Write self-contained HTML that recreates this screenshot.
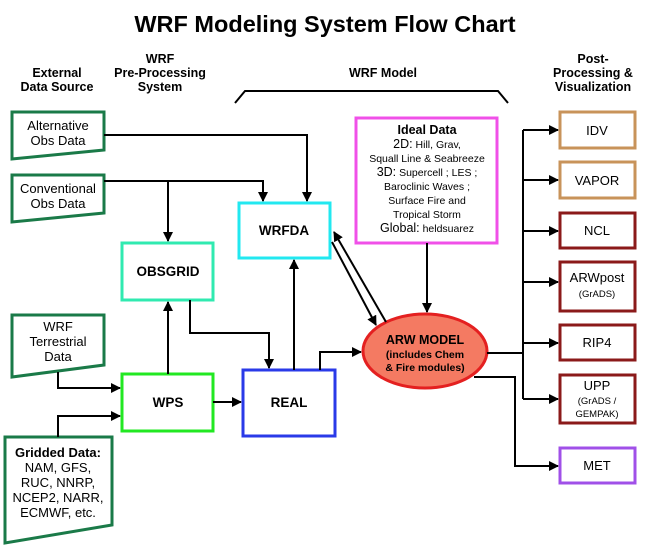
<!DOCTYPE html>
<html><head><meta charset="utf-8"><style>
html,body{margin:0;padding:0;background:#fff;}
svg{display:block;font-family:"Liberation Sans",Arial,sans-serif;}
</style></head><body>
<svg width="650" height="545" viewBox="0 0 650 545" xmlns="http://www.w3.org/2000/svg">
<defs>
<marker id="a" markerWidth="10" markerHeight="10" refX="9" refY="5" orient="auto" markerUnits="userSpaceOnUse">
<path d="M0,0 L10,5 L0,10 z" fill="#000"/></marker>
</defs>
<text x="325" y="32" font-size="23.5" font-weight="bold" text-anchor="middle">WRF Modeling System Flow Chart</text>
<g font-size="12.5" font-weight="bold" text-anchor="middle">
<text x="57" y="77">External</text><text x="57" y="91">Data Source</text>
<text x="160" y="63">WRF</text><text x="160" y="77">Pre-Processing</text><text x="160" y="91">System</text>
<text x="383" y="77">WRF Model</text>
<text x="593" y="63">Post-</text><text x="593" y="77">Processing &amp;</text><text x="593" y="91">Visualization</text>
</g>
<path d="M235,103 L245,91 L498,91 L508,103" fill="none" stroke="#000" stroke-width="2"/>

<g fill="#fff" stroke="#1a7a48" stroke-width="3">
<path d="M12,112 L104,112 L104,150 L12,159 z"/>
<path d="M12,175 L104,175 L104,213 L12,222 z"/>
<path d="M12,315 L104,315 L104,365 L12,377 z"/>
<path d="M5,437 L112,437 L112,525 L5,543 z"/>
</g>
<g font-size="13" text-anchor="middle">
<text x="58" y="130">Alternative</text><text x="58" y="145">Obs Data</text>
<text x="58" y="193">Conventional</text><text x="58" y="208">Obs Data</text>
<text x="58" y="331">WRF</text><text x="58" y="346">Terrestrial</text><text x="58" y="361">Data</text>
<text x="58" y="457" font-weight="bold">Gridded Data:</text>
<text x="58" y="472">NAM, GFS,</text><text x="58" y="487">RUC, NNRP,</text>
<text x="58" y="502">NCEP2, NARR,</text><text x="58" y="517">ECMWF, etc.</text>
</g>

<rect x="239" y="203" width="91" height="55" fill="#fff" stroke="#22e8f0" stroke-width="3"/>
<rect x="122" y="243" width="91" height="57" fill="#fff" stroke="#30eab0" stroke-width="3"/>
<rect x="122" y="374" width="91" height="57" fill="#fff" stroke="#22e822" stroke-width="3"/>
<rect x="243" y="370" width="92" height="66" fill="#fff" stroke="#2a3ae8" stroke-width="3"/>
<g font-size="13.5" font-weight="bold" text-anchor="middle">
<text x="284" y="235">WRFDA</text>
<text x="168" y="276">OBSGRID</text>
<text x="168" y="407">WPS</text>
<text x="289" y="407">REAL</text>
</g>

<rect x="356" y="118" width="141" height="125" fill="#fff" stroke="#f050e8" stroke-width="3"/>
<g text-anchor="middle" font-size="10.5">
<text x="427" y="134" font-size="12.5" font-weight="bold">Ideal Data</text>
<text x="427" y="148"><tspan font-size="12.5">2D:</tspan> Hill, Grav,</text>
<text x="427" y="162">Squall Line &amp; Seabreeze</text>
<text x="427" y="176"><tspan font-size="12.5">3D:</tspan> Supercell ; LES ;</text>
<text x="427" y="190">Baroclinic Waves ;</text>
<text x="427" y="204">Surface Fire and</text>
<text x="427" y="218">Tropical Storm</text>
<text x="427" y="232"><tspan font-size="12.5">Global:</tspan> heldsuarez</text>
</g>

<ellipse cx="425" cy="351" rx="62" ry="37" fill="#f47a62" stroke="#e42020" stroke-width="3"/>
<g font-weight="bold" text-anchor="middle">
<text x="425" y="344" font-size="12.5">ARW MODEL</text>
<text x="425" y="358" font-size="10.5">(includes Chem</text>
<text x="425" y="371" font-size="10.5">&amp; Fire modules)</text>
</g>

<g fill="#fff" stroke-width="3">
<rect x="560" y="112" width="75" height="36" stroke="#c8935a"/>
<rect x="560" y="162" width="75" height="36" stroke="#c8935a"/>
<rect x="560" y="213" width="75" height="35" stroke="#8b1a1a"/>
<rect x="560" y="262" width="75" height="49" stroke="#8b1a1a"/>
<rect x="560" y="325" width="75" height="35" stroke="#8b1a1a"/>
<rect x="560" y="375" width="75" height="48" stroke="#8b1a1a"/>
<rect x="560" y="448" width="75" height="35" stroke="#a050e8"/>
</g>
<g text-anchor="middle" font-size="13">
<text x="597" y="135">IDV</text>
<text x="597" y="185">VAPOR</text>
<text x="597" y="235">NCL</text>
<text x="597" y="282">ARWpost</text><text x="597" y="297" font-size="9.5">(GrADS)</text>
<text x="597" y="347">RIP4</text>
<text x="597" y="390">UPP</text><text x="597" y="404" font-size="9.5">(GrADS /</text><text x="597" y="417" font-size="9.5">GEMPAK)</text>
<text x="597" y="470">MET</text>
</g>

<g fill="none" stroke="#000" stroke-width="2">
<path d="M104,135 L307,135 L307,201" marker-end="url(#a)"/>
<path d="M104,181 L263,181 L263,201" marker-end="url(#a)"/>
<path d="M168,181 L168,241" marker-end="url(#a)"/>
<path d="M168,374 L168,302" marker-end="url(#a)"/>
<path d="M190,300 L190,333 L269,333 L269,368" marker-end="url(#a)"/>
<path d="M294,370 L294,260" marker-end="url(#a)"/>
<path d="M213,402 L241,402" marker-end="url(#a)"/>
<path d="M58,372 L58,388 L120,388" marker-end="url(#a)"/>
<path d="M58,437 L58,416 L120,416" marker-end="url(#a)"/>
<path d="M320,370 L320,352 L361,352" marker-end="url(#a)"/>
<path d="M427,243 L427,312" marker-end="url(#a)"/>
<path d="M386,322 L334,232" marker-end="url(#a)"/>
<path d="M332,242 L376,325" marker-end="url(#a)"/>
<path d="M487,353 L523,353"/>
<path d="M523,130 L523,399"/>
<path d="M523,130 L558,130" marker-end="url(#a)"/>
<path d="M523,180 L558,180" marker-end="url(#a)"/>
<path d="M523,231 L558,231" marker-end="url(#a)"/>
<path d="M523,282 L558,282" marker-end="url(#a)"/>
<path d="M523,343 L558,343" marker-end="url(#a)"/>
<path d="M523,399 L558,399" marker-end="url(#a)"/>
<path d="M474,377 L515,377 L515,466 L558,466" marker-end="url(#a)"/>
</g>
</svg>
</body></html>
